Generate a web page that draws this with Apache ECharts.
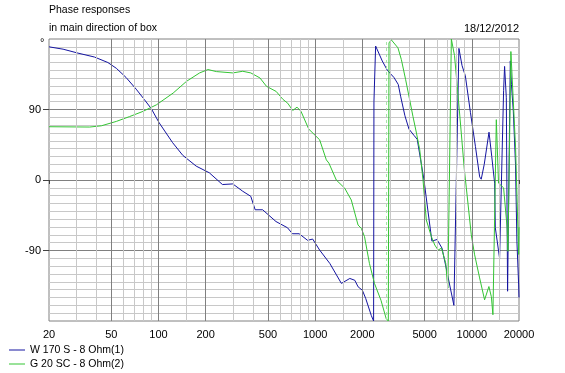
<!DOCTYPE html>
<html>
<head>
<meta charset="utf-8">
<style>html,body{margin:0;padding:0;background:#fff}#c{width:565px;height:373px}</style>
<script src="https://cdn.jsdelivr.net/npm/echarts@6/dist/echarts.min.js"></script>
</head>
<body>
<div id="c"></div>
<script>
// ---- data ----
const xTickLabels = [20, 50, 100, 200, 500, 1000, 2000, 5000, 10000, 20000];
const xMinorGrid = [30, 40, 60, 70, 80, 90, 150, 300, 400, 600, 700, 800, 900, 1500, 3000, 4000, 6000, 7000, 8000, 9000, 15000];
const xMajorGrid = [50, 100, 200, 500, 1000, 2000, 5000, 10000];
const yTickLabels = [-90, 0, 90];

const nameW = 'W 170 S - 8 Ohm(1)';
const nameG = 'G 20 SC - 8 Ohm(2)';

const freqW = [20, 24.6, 30.6, 39, 47.5, 53.8, 62, 72, 81, 90, 101, 123, 143, 174, 211, 256, 298, 345, 388, 414, 462, 562, 666, 716, 790, 894, 964, 1068, 1240, 1470, 1664, 1790, 1880, 2000, 2100, 2282, 2360, 2372, 2432, 2680, 2890, 3180, 3390, 3510, 3740, 3970, 4270, 4480, 4710, 4950, 5250, 5560, 5990, 6450, 6970, 7680, 7750, 8270, 8660, 9090, 9800, 10540, 11220, 11480, 12000, 12870, 13400, 13980, 14120, 15040, 15950, 16180, 16600, 16910, 17600, 17900, 18400, 19000, 19390, 19900, 20000];
const phaseW = [170, 167, 162, 157, 150, 142.6, 131, 116, 103, 91, 73, 47.7, 31.4, 17.7, 9.2, -5.8, -5, -14.4, -20.8, -38, -38, -53, -61, -68.6, -68.6, -77, -75.4, -89.5, -106.5, -132, -125.7, -128, -136.4, -140.7, -151, -173, -180, 100, 171, 152, 140, 131, 122, 107, 82, 65, 57, 52, 26, 0, -40, -78, -76, -87, -119, -160, -162, 168, 146, 133, 86, 43, 4, 1, 20, 61, 30, -4, -61, -100, 114, 145, 105, -142, 152, 122, 88, 20, -78, -134, -150];

const freqG = [20, 36.4, 43.2, 53.8, 65.4, 79.6, 97, 124, 151, 183, 207, 234, 298, 345, 388, 444, 489, 564, 622, 668, 719, 766, 812, 910, 1068, 1178, 1224, 1364, 1544, 1700, 1878, 1970, 2066, 2220, 2390, 2630, 2840, 2930, 2960, 3060, 3140, 3376, 3550, 3780, 4010, 4210, 4430, 4650, 4880, 5120, 5520, 5800, 6090, 6400, 6820, 6930, 7030, 7400, 7750, 8100, 8520, 8950, 9220, 9920, 10420, 11210, 12060, 12850, 13320, 13630, 14330, 14800, 15950, 16800, 17000, 17750, 19020, 19900, 20000];
const phaseG = [68, 67.6, 69.2, 74.8, 81, 87.6, 96, 111, 126, 136.7, 141, 138.4, 136.7, 138.8, 136.7, 130.3, 119.6, 113, 103, 98, 88.8, 93, 87.6, 65, 51.3, 25.7, 21.5, 0, -10.5, -25.5, -57.5, -61.7, -72.4, -106.5, -132, -153.5, -177, -180, 175, 179, 177, 168.7, 153.7, 128, 102.5, 81, 60, 38.5, 0, -51, -72.4, -83, -89.5, -87, -106.5, -125, -138, 180, 159, 116, 65, 14, -10, -70, -95.5, -125, -153, -136, -149, -172, 77, -4, -10, -61, -91, 164, 41, -95, -60];

const wrapMarkG = [2838];

// ---- chart ----
const FONT = '"Liberation Sans", Arial, sans-serif';
const chart = echarts.init(document.getElementById('c'), null, {renderer: 'canvas'});
const pairs = (xs, ys) => xs.map((x, i) => [x, ys[i]]);

const option = {
  animation: false,
  backgroundColor: '#fff',
  textStyle: {fontFamily: FONT, fontSize: 11, color: '#000'},
  grid: {left: 49, right: 46, top: 39, bottom: 52, show: true, borderColor: '#808080', borderWidth: 1, backgroundColor: '#fff'},
  graphic: [
    {type: 'text', left: 49, top: 5, style: {text: 'Phase responses', fontSize: 10.5, fontFamily: FONT, fill: '#000'}},
    {type: 'text', left: 49, top: 23, style: {text: 'in main direction of box', fontSize: 10.5, fontFamily: FONT, fill: '#000'}},
    {type: 'text', right: 46, top: 23, style: {text: '18/12/2012', fontSize: 11, fontFamily: FONT, fill: '#000'}},
    {type: 'text', left: 40, top: 37, style: {text: '°', fontSize: 11, fontFamily: FONT, fill: '#000'}}
  ],
  legend: {
    orient: 'vertical', left: 9, top: 343, padding: 0,
    itemWidth: 16, itemHeight: 1, itemGap: 0, icon: 'rect',
    textStyle: {fontSize: 10.5, fontFamily: FONT, color: '#000', lineHeight: 14},
    data: [nameW, nameG]
  },
  xAxis: {
    type: 'log', logBase: 10, min: 20, max: 20000,
    axisLine: {show: false},
    axisTick: {show: true, length: 4, lineStyle: {color: '#404040'}, customValues: xTickLabels},
    axisLabel: {customValues: xTickLabels, margin: 8, color: '#000', fontSize: 11, fontFamily: FONT, formatter: v => String(v)},
    splitLine: {show: false}, minorSplitLine: {show: false}
  },
  yAxis: {
    type: 'value', min: -180, max: 180, interval: 90,
    axisLine: {show: false},
    axisTick: {show: true, length: 6, lineStyle: {color: '#404040'}, customValues: yTickLabels},
    axisLabel: {customValues: yTickLabels, margin: 8, color: '#000', fontSize: 11, fontFamily: FONT},
    splitLine: {show: true, lineStyle: {color: '#808080', width: 1}},
    minorTick: {show: false, splitNumber: 9},
    minorSplitLine: {show: true, lineStyle: {color: '#c8c8c8', width: 1}}
  },
  series: [
    {
      name: 'grid', type: 'line', data: [], z: 1, silent: true,
      markLine: {
        silent: true, symbol: 'none', animation: false, label: {show: false},
        data: [
          ...xMinorGrid.map(v => ({xAxis: v, lineStyle: {color: '#c8c8c8', type: 'solid', width: 1}})),
          ...xMajorGrid.map(v => ({xAxis: v, lineStyle: {color: '#808080', type: 'solid', width: 1}})),
          ...wrapMarkG.map(v => ({xAxis: v, lineStyle: {color: '#a8e4a8', type: [3, 3], width: 1}}))
        ]
      }
    },
    {
      name: nameW, type: 'line', z: 3, color: '#1414a0', showSymbol: false, symbol: 'none',
      lineStyle: {width: 1, color: '#1414a0'}, data: pairs(freqW, phaseW)
    },
    {
      name: nameG, type: 'line', z: 3, color: '#33c433', showSymbol: false, symbol: 'none',
      lineStyle: {width: 1, color: '#33c433'}, data: pairs(freqG, phaseG)
    }
  ]
};
chart.setOption(option);
</script>
</body>
</html>
